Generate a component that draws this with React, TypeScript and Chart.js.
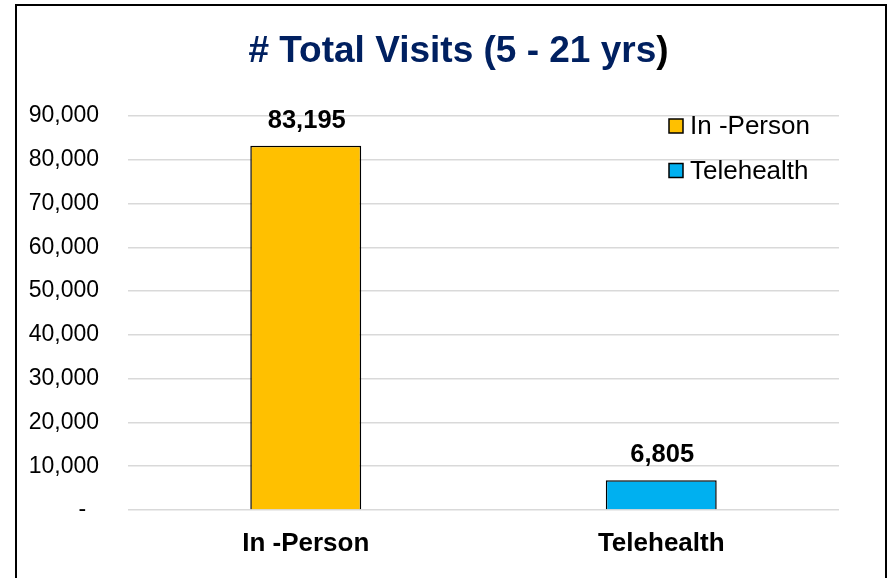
import React, { useEffect, useRef } from 'react';
import { Chart, registerables } from 'chart.js';

Chart.register(...registerables);

const categories = ['In -Person', 'Telehealth'];
const visits = [83195, 6805];
const barColors = ['#FFC000', '#00B0F0'];
const yMin = 0;
const yMax = 90000;
const yStep = 10000;
const titleMain = '# Total Visits (5 - 21 yrs';
const titleTail = ')';

const FONT = '"Liberation Sans", Arial, Helvetica, sans-serif';

const fmt = (v: number): string =>
  v === 0 ? '-  ' : String(Math.round(v)).replace(/\B(?=(\d{3})+(?!\d))/g, ',');

const titlePlugin = {
  id: 'twoToneTitle',
  afterDraw(chart: any) {
    const ctx = chart.ctx;
    ctx.save();
    ctx.font = `bold 37px ${FONT}`;
    ctx.textBaseline = 'alphabetic';
    ctx.textAlign = 'left';
    const w1 = ctx.measureText(titleMain).width;
    const w2 = ctx.measureText(titleTail).width;
    const cx = 458.5;
    const x0 = cx - (w1 + w2) / 2;
    ctx.fillStyle = '#002060';
    ctx.fillText(titleMain, x0, 62);
    ctx.fillStyle = '#000000';
    ctx.fillText(titleTail, x0 + w1, 62);
    ctx.restore();
  },
};

const valueLabels = {
  id: 'valueLabels',
  afterDatasetsDraw(chart: any) {
    const ctx = chart.ctx;
    const meta = chart.getDatasetMeta(0);
    ctx.save();
    ctx.font = `bold 25.5px ${FONT}`;
    ctx.fillStyle = '#000';
    ctx.textAlign = 'center';
    ctx.textBaseline = 'alphabetic';
    meta.data.forEach((el: any, i: number) => {
      ctx.fillText(fmt(visits[i]), el.x + 1, el.y - 18);
    });
    ctx.restore();
  },
};

const insideLegend = {
  id: 'insideLegend',
  afterDraw(chart: any) {
    const ctx = chart.ctx;
    const area = chart.chartArea;
    ctx.save();
    ctx.font = `26px ${FONT}`;
    ctx.textBaseline = 'middle';
    ctx.textAlign = 'left';
    categories.forEach((c, i) => {
      const x = area.right - 170;
      const y = area.top + 10 + i * 44.5;
      ctx.fillStyle = barColors[i];
      ctx.fillRect(x, y - 7, 14, 14);
      ctx.strokeStyle = '#000';
      ctx.lineWidth = 1.5;
      ctx.strokeRect(x, y - 7, 14, 14);
      ctx.fillStyle = '#000';
      ctx.fillText(c, x + 21, y + 1);
    });
    ctx.restore();
  },
};

export default function App() {
  const ref = useRef<HTMLCanvasElement | null>(null);

  useEffect(() => {
    if (!ref.current) return;
    const chart = new Chart(ref.current, {
      type: 'bar',
      data: {
        labels: categories,
        datasets: [
          {
            label: '# Total Visits',
            data: visits,
            backgroundColor: barColors,
            borderColor: '#000',
            borderWidth: 1.5,
            barPercentage: 0.312,
            categoryPercentage: 1,
          },
        ],
      },
      options: {
        responsive: false,
        animation: false,
        layout: { padding: { top: 116, right: 55, left: 0, bottom: 0 } },
        plugins: {
          legend: { display: false },
          title: { display: false },
          tooltip: { enabled: false },
        },
        scales: {
          x: {
            offset: true,
            grid: { display: false },
            border: { display: false },
            ticks: {
              color: '#000',
              padding: 10,
              font: { family: FONT, size: 26, weight: 'bold' },
            },
            afterFit: (s: any) => {
              s.height = 68;
              s.paddingLeft = 0;
              s.paddingRight = 0;
            },
          },
          y: {
            min: yMin,
            max: yMax,
            grid: { color: '#d9d9d9', lineWidth: 1.5, drawTicks: false },
            border: { display: false },
            ticks: {
              stepSize: yStep,
              color: '#000',
              padding: 29,
              font: { family: FONT, size: 23 },
              callback: (v: any) => fmt(Number(v)),
            },
            afterFit: (s: any) => {
              s.width = 128;
              s.paddingTop = 0;
              s.paddingBottom = 0;
            },
          },
        },
      },
      plugins: [titlePlugin, valueLabels, insideLegend],
    });
    return () => chart.destroy();
  }, []);

  return (
    <div style={{ position: 'absolute', left: 0, top: 0, width: 894, height: 578, overflow: 'hidden', background: '#fff' }}>
      <div
        style={{
          position: 'absolute',
          left: 15,
          top: 4,
          width: 872,
          height: 640,
          border: '2px solid #000',
          boxSizing: 'border-box',
        }}
      />
      <canvas ref={ref} width={894} height={578} style={{ position: 'absolute', left: 0, top: 0 }} />
    </div>
  );
}
